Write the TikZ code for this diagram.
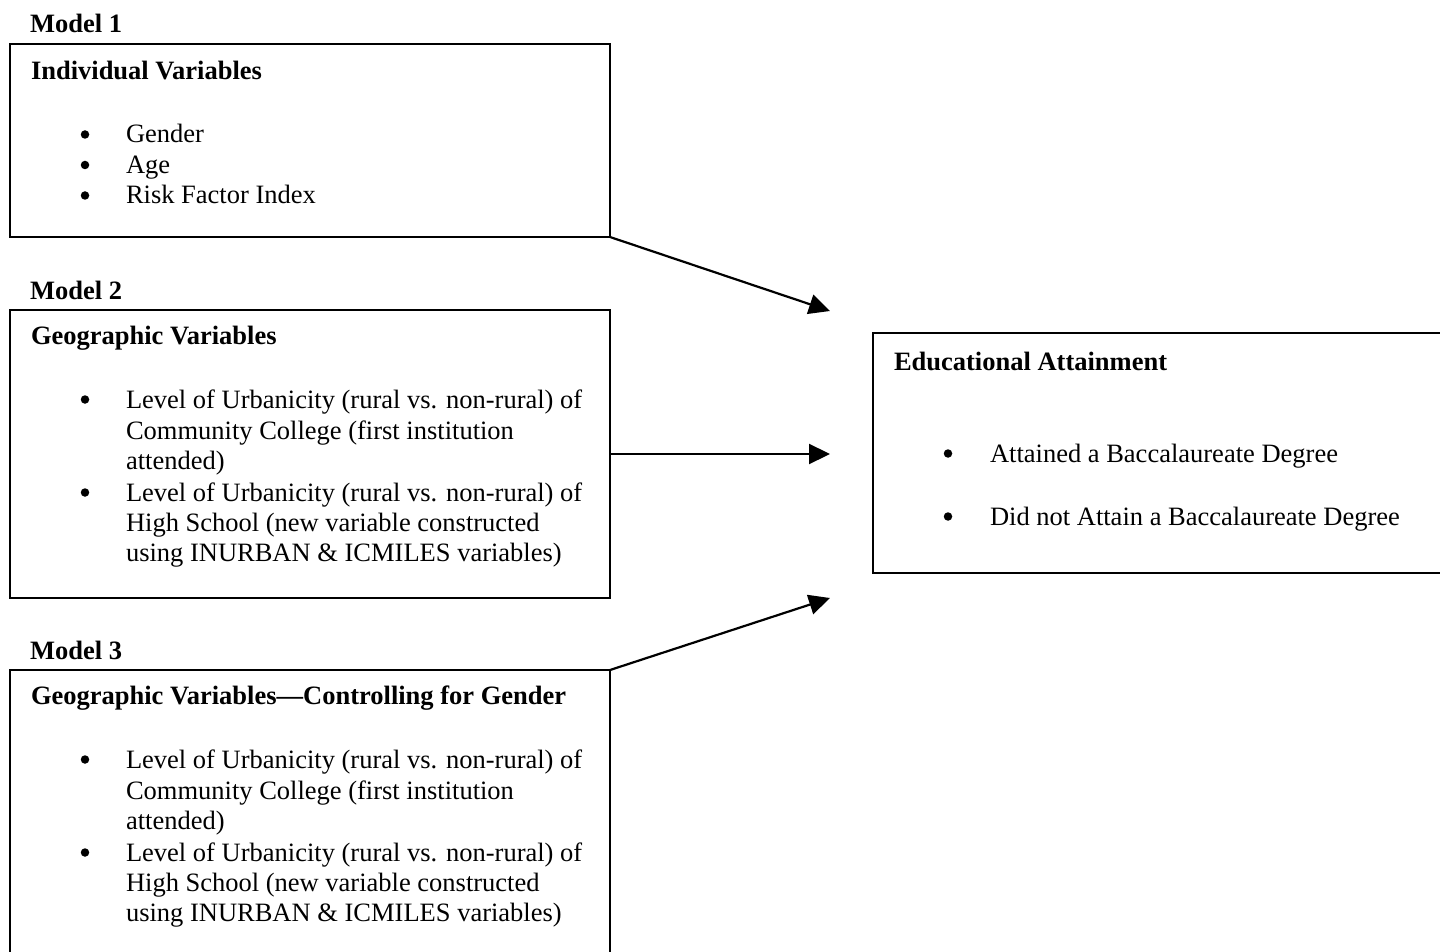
\documentclass[tikz,border=0pt]{standalone}
\usepackage{fontspec}
\setmainfont{Liberation Serif}
\usetikzlibrary{arrows.meta}
\begin{document}
\begin{tikzpicture}[x=1pt,y=-1pt,
  box/.style={draw, line width=2.3pt, inner sep=0pt, outer sep=0pt, anchor=north west},
  txt/.style={anchor=base west, inner sep=0pt, outer sep=0pt, font=\fontsize{26.5}{31}\selectfont},
  ttl/.style={anchor=base west, inner sep=0pt, outer sep=0pt, font=\fontsize{26.5}{31}\selectfont\bfseries},
  bul/.style={circle, fill, inner sep=0pt, outer sep=0pt, minimum size=8.5pt},
  conn/.style={line width=2.2pt, -{Triangle[length=21pt,width=20pt]}}]
\useasboundingbox (0,0) rectangle (1440,952);
\clip (0,0) rectangle (1440,952);

% Model 1
\node[ttl] (m1) at (30,33) {Model 1};
\node[box, minimum width=600pt, minimum height=193pt] (b1) at (10,44) {};
\node[ttl] (t1) at (31,80) {Individual Variables};
\node[bul] (p11) at (85,134.5) {};
\node[txt] (l11) at (126,143) {Gender};
\node[bul] (p12) at (85,165) {};
\node[txt] (l12) at (126,173.5) {Age};
\node[bul] (p13) at (85,195.5) {};
\node[txt] (l13) at (126,204) {Risk Factor Index};

% Model 2
\node[ttl] (m2) at (30,299) {Model 2};
\node[box, minimum width=600pt, minimum height=288pt] (b2) at (10,310) {};
\node[ttl] (t2) at (31,344.5) {Geographic Variables};
\node[bul] (p21) at (85,399.5) {};
\node[txt] (l21) at (126,408) {Level of Urbanicity (rural vs. non-rural) of};
\node[txt] (l22) at (126,439) {Community College (first institution};
\node[txt] (l23) at (126,469.5) {attended)};
\node[bul] (p22) at (85,492.5) {};
\node[txt] (l24) at (126,501) {Level of Urbanicity (rural vs. non-rural) of};
\node[txt] (l25) at (126,531) {High School (new variable constructed};
\node[txt] (l26) at (126,561.5) {using INURBAN \& ICMILES variables)};

% Model 3
\node[ttl] (m3) at (30,659) {Model 3};
\node[box, minimum width=600pt, minimum height=400pt] (b3) at (10,670) {};
\node[ttl] (t3) at (31,704) {Geographic Variables—Controlling for Gender};
\node[bul] (p31) at (85,759.5) {};
\node[txt] (l31) at (126,768) {Level of Urbanicity (rural vs. non-rural) of};
\node[txt] (l32) at (126,799) {Community College (first institution};
\node[txt] (l33) at (126,829) {attended)};
\node[bul] (p32) at (85,852.5) {};
\node[txt] (l34) at (126,861) {Level of Urbanicity (rural vs. non-rural) of};
\node[txt] (l35) at (126,891) {High School (new variable constructed};
\node[txt] (l36) at (126,921) {using INURBAN \& ICMILES variables)};

% Outcome
\node[box, minimum width=700pt, minimum height=240pt] (bo) at (873,333) {};
\node[ttl] (to) at (894,370) {Educational Attainment};
\node[bul] (po1) at (948,453.5) {};
\node[txt] (lo1) at (990,462) {Attained a Baccalaureate Degree};
\node[bul] (po2) at (948,516.5) {};
\node[txt] (lo2) at (990,525) {Did not Attain a Baccalaureate Degree};

% Connectors
\coordinate (a1) at (830,311);
\coordinate (a2) at (830,454);
\coordinate (a3) at (830,598);
\draw[conn] (b1.south east) -- (a1);
\draw[conn] (b2.east) -- (a2);
\draw[conn] (b3.north east) -- (a3);
\end{tikzpicture}
\end{document}
